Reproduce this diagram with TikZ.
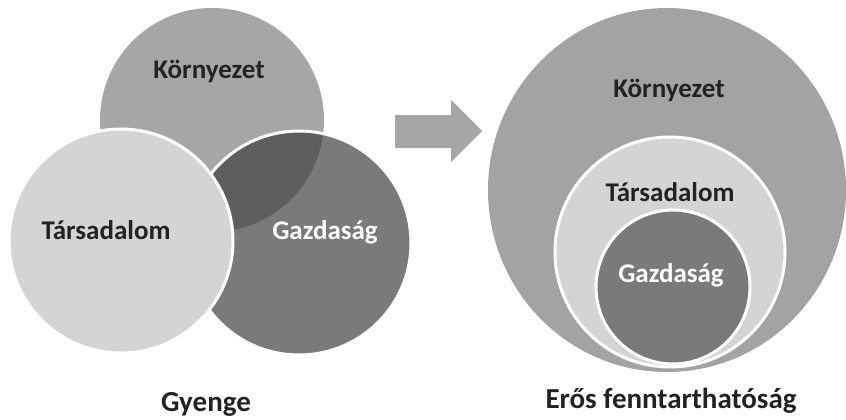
\documentclass[tikz,border=0pt]{standalone}
\usepackage{fontspec}
\setmainfont{Carlito}
\definecolor{kornyC}{RGB}{166,166,169}
\definecolor{bigC}{RGB}{163,163,166}
\definecolor{tarsC}{RGB}{212,212,214}
\definecolor{gazdC}{RGB}{122,122,125}
\definecolor{overC}{RGB}{94,94,97}
\definecolor{arrowC}{RGB}{166,166,169}
\definecolor{txtC}{RGB}{34,34,34}
\tikzset{
  lbl/.style={font=\fontsize{27}{31}\selectfont\bfseries, text=txtC, anchor=base, inner sep=0pt},
  wlbl/.style={lbl, text=white},
  blbl/.style={lbl, font=\fontsize{29}{33}\selectfont\bfseries},
  wedge/.style={draw=white, line width=3pt}
}
\begin{document}
\begin{tikzpicture}[x=1pt,y=-1pt]
\useasboundingbox (0,0) rectangle (846,420);
\fill[white] (0,0) rectangle (846,420);
% ---- left: weak sustainability (Venn) ----
\coordinate (kc) at (212,120);
\coordinate (gc) at (299,243);
\coordinate (tc) at (121,241);
\fill[kornyC] (kc) circle (112);
\fill[gazdC] (gc) circle (112);
\begin{scope}
  \clip (kc) circle (112);
  \fill[overC] (gc) circle (112);
\end{scope}
\draw[wedge] (gc) circle (112);
\fill[tarsC] (tc) circle (112);
\draw[wedge] (tc) circle (112);
\node[lbl] (k1) at (209,78) {Környezet};
\node[lbl] (t1) at (106,239) {Társadalom};
\node[wlbl] (g1) at (325,239) {Gazdaság};
\node[blbl] (gy) at (206,411) {Gyenge};
% ---- arrow ----
\fill[arrowC] (395,115) -- (451,115) -- (451,100) -- (482,131) -- (451,162) -- (451,148) -- (395,148) -- cycle;
% ---- right: strong sustainability (nested) ----
\fill[bigC] (667,190) ellipse [x radius=179, y radius=182];
\fill[tarsC] (670,252) circle (115);
\draw[wedge] (670,252) circle (115);
\fill[gazdC] (673,287) circle (77);
\draw[wedge] (673,287) circle (77);
\node[lbl] (k2) at (669,97) {Környezet};
\node[lbl] (t2) at (670,201) {Társadalom};
\node[wlbl] (g2) at (671,282) {Gazdaság};
\node[blbl] (er) at (671,408) {Erős fenntarthatóság};
\end{tikzpicture}
\end{document}
